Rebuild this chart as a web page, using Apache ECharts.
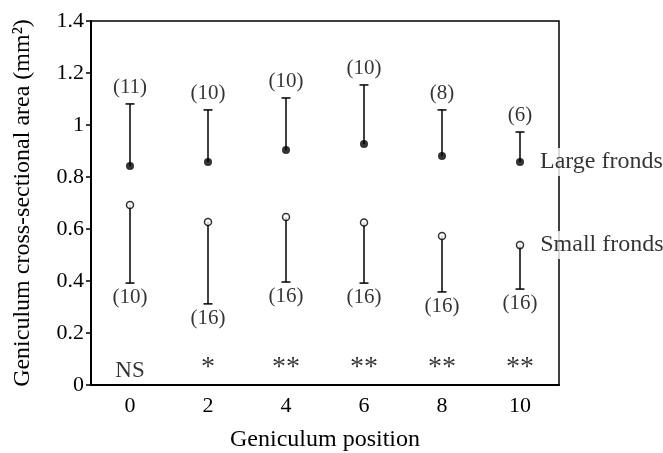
<!DOCTYPE html>
<html>
<head>
<meta charset="utf-8">
<script src="https://cdn.jsdelivr.net/npm/echarts@6/dist/echarts.min.js"></script>
<style>
  html, body { margin: 0; padding: 0; background: #fff; }
  #chart { width: 663px; height: 453px; }
</style>
</head>
<body>
<div id="chart"></div>
<script>
// geniculum position categories
const positions = ['0', '2', '4', '6', '8', '10'];
// large fronds: mean and upper error
const largeMean = [0.842, 0.858, 0.904, 0.927, 0.881, 0.858];
const largeUpper = [1.081, 1.058, 1.104, 1.154, 1.058, 0.973];
const largeN = ['(11)', '(10)', '(10)', '(10)', '(8)', '(6)'];
// small fronds: mean and lower error
const smallMean = [0.692, 0.627, 0.646, 0.625, 0.573, 0.538];
const smallLower = [0.392, 0.312, 0.396, 0.392, 0.358, 0.369];
const smallN = ['(10)', '(16)', '(16)', '(16)', '(16)', '(16)'];
// significance marks
const signif = ['NS', '*', '**', '**', '**', '**'];

const FONT = '"Liberation Serif", "DejaVu Serif", serif';

function renderErrorBar(params, api) {
  const x = api.value(0);
  const p0 = api.coord([x, api.value(1)]);
  const p1 = api.coord([x, api.value(2)]);
  const half = 4.5;
  const style = { stroke: '#000', lineWidth: 1.5 };
  return {
    type: 'group',
    children: [
      { type: 'line', shape: { x1: p0[0], y1: p0[1], x2: p1[0], y2: p1[1] }, style: style },
      { type: 'line', shape: { x1: p1[0] - half, y1: p1[1], x2: p1[0] + half, y2: p1[1] }, style: style }
    ]
  };
}

function withEndLabel(values, text) {
  return values.map((v, i) => {
    if (i !== values.length - 1) return v;
    return {
      value: v,
      label: {
        show: true,
        position: 'right',
        distance: 15,
        formatter: text,
        color: '#000',
        fontFamily: FONT,
        fontSize: 24,
        backgroundColor: '#fff',
        padding: [2, 1]
      }
    };
  });
}

const chart = echarts.init(document.getElementById('chart'));
const option = {
  animation: false,
  grid: {
    show: true,
    left: 91,
    right: 104,
    top: 21,
    bottom: 68,
    containLabel: false,
    outerBoundsMode: 'none',
    borderColor: '#000',
    borderWidth: 1.5
  },
  xAxis: {
    type: 'category',
    data: positions,
    axisLine: { lineStyle: { color: '#000', width: 2 } },
    axisTick: { length: 6, lineStyle: { color: '#000', width: 1.5 } },
    axisLabel: { color: '#000', fontFamily: FONT, fontSize: 22, margin: 10 },
    name: 'Geniculum position',
    nameLocation: 'middle',
    nameGap: 43,
    nameTextStyle: { color: '#000', fontFamily: FONT, fontSize: 24 }
  },
  yAxis: {
    type: 'value',
    min: 0,
    max: 1.4,
    interval: 0.2,
    splitLine: { show: false },
    axisLine: { show: true, lineStyle: { color: '#000', width: 2 } },
    axisTick: { show: true, length: 5, lineStyle: { color: '#000', width: 1.5 } },
    axisLabel: { color: '#000', fontFamily: FONT, fontSize: 22, margin: 7 },
    name: 'Geniculum cross-sectional area (mm²)',
    nameLocation: 'middle',
    nameGap: 56,
    nameTextStyle: { color: '#000', fontFamily: FONT, fontSize: 24 }
  },
  series: [
    {
      name: 'Large error',
      type: 'custom',
      renderItem: renderErrorBar,
      data: largeMean.map((m, i) => [i, m, largeUpper[i]]),
      z: 2
    },
    {
      name: 'Small error',
      type: 'custom',
      renderItem: renderErrorBar,
      data: smallMean.map((m, i) => [i, m, smallLower[i]]),
      z: 2
    },
    {
      name: 'Large fronds',
      type: 'scatter',
      data: withEndLabel(largeMean, 'Large fronds'),
      symbol: 'circle',
      symbolSize: 8,
      itemStyle: { color: '#000' },
      z: 3
    },
    {
      name: 'Small fronds',
      type: 'scatter',
      data: withEndLabel(smallMean, 'Small fronds'),
      symbol: 'circle',
      symbolSize: 7,
      itemStyle: { color: '#fff', borderColor: '#000', borderWidth: 1.5 },
      z: 3
    },
    {
      name: 'Large n',
      type: 'scatter',
      data: largeUpper,
      symbolSize: 0,
      label: {
        show: true,
        position: 'top',
        distance: 6,
        formatter: (p) => largeN[p.dataIndex],
        color: '#000',
        fontFamily: FONT,
        fontSize: 21
      },
      z: 4
    },
    {
      name: 'Small n',
      type: 'scatter',
      data: smallLower,
      symbolSize: 0,
      label: {
        show: true,
        position: 'bottom',
        distance: 4,
        formatter: (p) => smallN[p.dataIndex],
        color: '#000',
        fontFamily: FONT,
        fontSize: 21
      },
      z: 4
    },
    {
      name: 'Significance',
      type: 'scatter',
      data: positions.map(() => 0),
      symbolSize: 0,
      label: {
        show: true,
        position: 'top',
        distance: 3,
        formatter: (p) => signif[p.dataIndex] === 'NS' ? '{ns|NS}' : '{st|' + signif[p.dataIndex] + '}',
        color: '#000',
        fontFamily: FONT,
        rich: {
          ns: { fontFamily: FONT, fontSize: 23, color: '#000' },
          st: { fontFamily: FONT, fontSize: 28, color: '#000' }
        }
      },
      z: 4
    }
  ]
};
chart.setOption(option, true);
</script>
</body>
</html>
